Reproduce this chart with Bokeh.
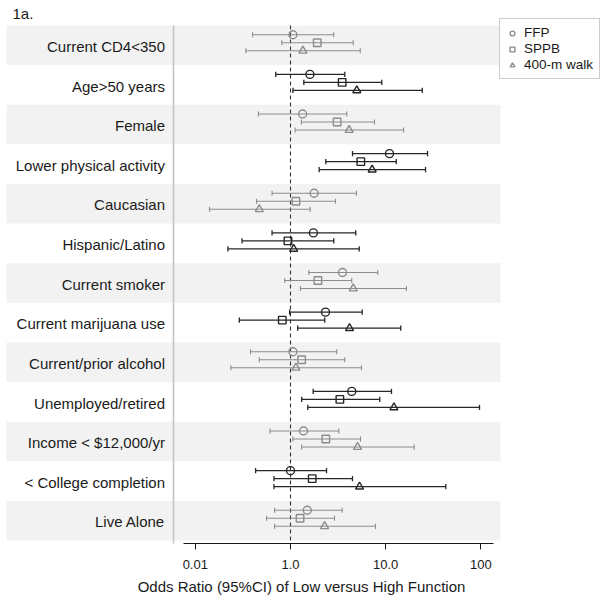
from bokeh.plotting import figure
from bokeh.models import ColumnDataSource, Range1d, FixedTicker, Legend, LegendItem, Label
from bokeh.core.properties import value
from bokeh.embed import file_html
from bokeh.resources import INLINE

categories = ["Current CD4<350", "Age>50 years", "Female", "Lower physical activity",
              "Caucasian", "Hispanic/Latino", "Current smoker", "Current marijuana use",
              "Current/prior alcohol", "Unemployed/retired", "Income < $12,000/yr",
              "< College completion", "Live Alone"]

ffp_or = [1.06, 1.60, 1.34, 10.96, 1.77, 1.74, 3.52, 2.33, 1.06, 4.40, 1.37, 1.00, 1.50]
ffp_lo = [0.40, 0.70, 0.46, 4.48, 0.64, 0.64, 1.56, 0.98, 0.38, 1.73, 0.61, 0.43, 0.68]
ffp_hi = [2.85, 3.72, 3.90, 27.5, 4.93, 4.85, 8.26, 5.66, 3.06, 11.5, 3.22, 2.39, 3.49]

sppb_or = [1.91, 3.49, 3.09, 5.48, 1.14, 0.94, 1.94, 0.82, 1.31, 3.30, 2.35, 1.69, 1.26]
sppb_lo = [0.81, 1.38, 1.30, 2.35, 0.44, 0.31, 0.87, 0.29, 0.47, 1.31, 1.06, 0.67, 0.56]
sppb_hi = [4.56, 9.10, 7.63, 12.9, 2.97, 2.85, 4.40, 2.29, 3.72, 8.67, 5.44, 4.48, 2.90]

walk_or = [1.35, 4.97, 4.13, 7.21, 0.47, 1.08, 4.56, 4.17, 1.14, 12.2, 5.06, 5.31, 2.28]
walk_lo = [0.34, 1.06, 1.12, 2.00, 0.141, 0.22, 1.27, 1.19, 0.236, 1.52, 1.31, 0.67, 0.68]
walk_hi = [5.40, 24.2, 15.4, 26.2, 1.61, 5.27, 16.5, 14.4, 5.57, 96.7, 19.9, 42.8, 7.81]

series_names = ["FFP", "SPPB", "400-m walk"]
tick_values = [0.1, 1, 10, 100]
tick_labels = ["0.01", "1.0", "10.0", "100"]
x_title = "Odds Ratio (95%CI) of Low versus High Function"
panel_title = "1a."

FONT = "Liberation Sans"
GRAY = "#8c8c8c"
DARK = "#262626"
BAND = "#f2f2f2"

# log-scale mapping: value 1.0 at 290px, 95.2px per decade
PX1 = 290.0
DEC = 95.2
W, H = 602, 600


def xv(px):
    return 10 ** ((px - PX1) / DEC)


n = len(categories)
rows = list(range(1, n + 1))
row_colors = [GRAY if i % 2 == 0 else DARK for i in range(n)]

p = figure(width=W, height=H, x_axis_type="log", output_backend="svg",
           toolbar_location=None, min_border_left=0, min_border_right=0,
           min_border_top=0, min_border_bottom=57,
           x_range=Range1d(xv(0), xv(W)), y_range=Range1d(13.573, -0.13))
p.outline_line_color = None
p.xgrid.visible = False
p.ygrid.visible = False
p.yaxis.visible = False
p.background_fill_color = "white"
p.border_fill_color = "white"

# alternating bands
band_rows = [r for i, r in enumerate(rows) if i % 2 == 0]
p.quad(left=xv(6), right=xv(500), top=[r - 0.5 for r in band_rows],
       bottom=[r + 0.5 for r in band_rows], fill_color=BAND, line_color=None)

# separator line and reference line
p.segment(x0=[xv(173)], x1=[xv(173)], y0=[0.5], y1=[13.62], line_color="#c4c4c4", line_width=1.6)
p.segment(x0=[1], x1=[1], y0=[0.5], y1=[13.6], line_color="#333333", line_width=1.1,
          line_dash="4 3")

# category labels
p.text(x=[xv(164.5)] * n, y=[r + 0.03 for r in rows], text=categories,
       text_font=value(FONT), text_font_size="15px", text_align="right",
       text_baseline="middle", text_color="#1a1a1a")

offsets = [-0.265, -0.063, 0.139]
markers = ["circle", "square", "triangle"]
sizes = [8, 7.5, 8]
data = [(ffp_or, ffp_lo, ffp_hi), (sppb_or, sppb_lo, sppb_hi), (walk_or, walk_lo, walk_hi)]
cap = 0.065
renderers = []
for k, (orv, lo, hi) in enumerate(data):
    ys = [r + offsets[k] for r in rows]
    src = ColumnDataSource(dict(orv=orv, lo=lo, hi=hi, y=ys,
                                y0=[y - cap for y in ys], y1=[y + cap for y in ys],
                                color=row_colors,
                                lw=[1.1 if c == GRAY else 1.3 for c in row_colors]))
    p.segment(x0="lo", x1="hi", y0="y", y1="y", line_color="color", line_width="lw", source=src)
    p.segment(x0="lo", x1="lo", y0="y0", y1="y1", line_color="color", line_width="lw", source=src)
    p.segment(x0="hi", x1="hi", y0="y0", y1="y1", line_color="color", line_width="lw", source=src)
    rr = p.scatter(x="orv", y="y", marker=markers[k], size=sizes[k], fill_color=None,
                   line_color="color", line_width=1.4, source=src)
    renderers.append(rr)

legend = Legend(items=[LegendItem(label=series_names[k], renderers=[renderers[k]], index=0)
                       for k in range(3)],
                location=(499, 464))
legend.label_text_font = FONT
legend.label_text_font_size = "13.5px"
legend.label_text_color = "#1a1a1a"
legend.glyph_width = 12
legend.glyph_height = 14
legend.label_height = 14
legend.label_standoff = 6
legend.spacing = 1
legend.padding = 6
legend.margin = 0
legend.border_line_color = "#999999"
legend.border_line_width = 1
legend.background_fill_color = "white"
legend.background_fill_alpha = 1.0
p.add_layout(legend)

ax = p.xaxis[0]
ax.ticker = FixedTicker(ticks=tick_values, minor_ticks=[])
ax.major_label_overrides = {tv: tl for tv, tl in zip(tick_values, tick_labels)}
ax.bounds = (xv(182.7), xv(493.3))
ax.axis_line_color = "#1a1a1a"
ax.axis_line_width = 1.2
ax.major_tick_line_color = "#1a1a1a"
ax.major_tick_in = 0
ax.major_tick_out = 6
ax.minor_tick_line_color = None
ax.major_label_standoff = 10
ax.major_label_text_font = FONT
ax.major_label_text_font_size = "13px"
ax.major_label_text_color = "#1a1a1a"
ax.axis_label = x_title
ax.axis_label_text_font = FONT
ax.axis_label_text_font_size = "15px"
ax.axis_label_text_font_style = "normal"
ax.axis_label_text_color = "#1a1a1a"
ax.axis_label_standoff = 6

p.add_layout(Label(x=xv(12), y=0.2, text=panel_title, text_font=FONT,
                   text_font_size="15px", text_baseline="middle", text_color="#1a1a1a"))

open("out.html", "w").write(file_html(p, INLINE))
